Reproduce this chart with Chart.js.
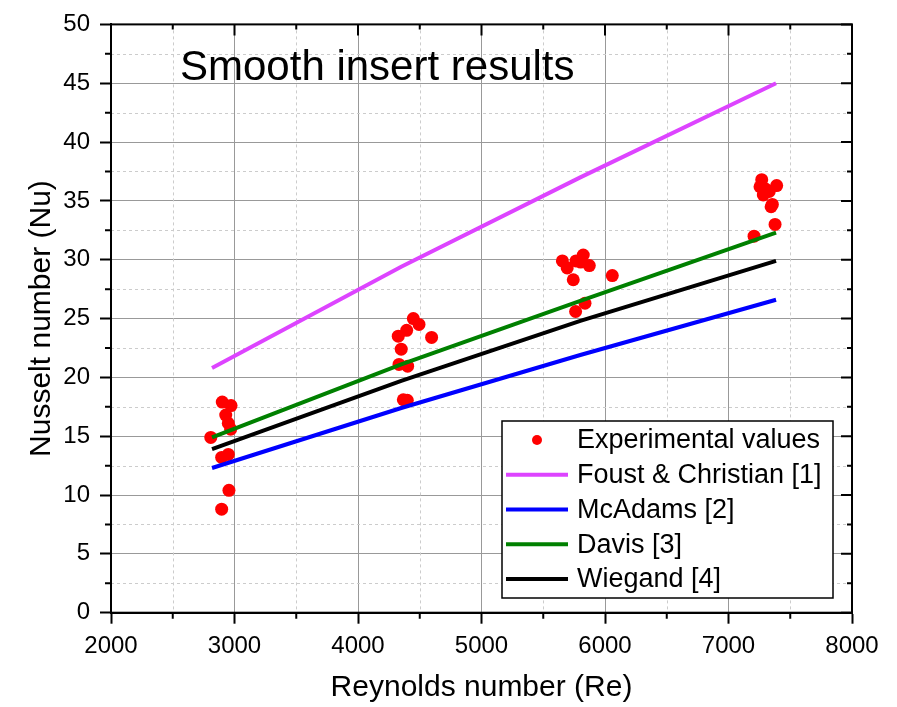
<!DOCTYPE html>
<html>
<head>
<meta charset="utf-8">
<title>Smooth insert results</title>
<script src="https://cdn.jsdelivr.net/npm/chart.js@4.4.1/dist/chart.umd.min.js"></script>
<style>
  html, body { margin: 0; padding: 0; background: #fff; }
  #wrap { width: 897px; height: 707px; }
</style>
</head>
<body>
<div id="wrap"><canvas id="nusseltChart" width="897" height="707"></canvas></div>
<script>
// experimental points (Re, Nu)
const expRe = [
  2808, 2901, 2972, 2929, 2950, 2969, 2896, 2950, 2955, 2896,
  4448, 4494, 4394, 4326, 4596, 4350, 4332, 4402, 4367, 4399,
  5655, 5694, 5765, 5824, 5803, 5873, 5743, 6059, 5838, 5762,
  7269, 7255, 7390, 7330, 7282, 7355, 7377, 7207, 7345, 7300
];
const expNu = [
  14.9, 17.9, 17.6, 16.8, 16.1, 15.6, 13.2, 13.45, 10.4, 8.8,
  25.0, 24.5, 24.0, 23.5, 23.4, 22.4, 21.1, 20.95, 18.1, 18.05,
  29.9, 29.3, 29.9, 30.4, 29.8, 29.5, 28.3, 28.65, 26.3, 25.6,
  36.8, 36.2, 36.3, 35.8, 35.5, 34.7, 33.0, 32.0, 34.5, 36.0
];

// correlations, evaluated at the group Reynolds numbers
const modelRe = [2818, 4350, 5800, 7385];
const foustNu = [20.8, 29.4, 37.0, 45.0];
const mcadamsNu = [12.3, 17.4, 21.9, 26.6];
const davisNu = [14.9, 21.1, 26.5, 32.3];
const wiegandNu = [13.9, 19.7, 24.8, 29.9];

const seriesLabels = ["Experimental values", "Foust & Christian [1]", "McAdams [2]", "Davis [3]", "Wiegand [4]"];
const chartTitle = "Smooth insert results";
const xTitle = "Reynolds number (Re)";
const yTitle = "Nusselt number (Nu)";

const toPoints = (xs, ys) => xs.map((x, i) => ({ x: x, y: ys[i] }));

Chart.defaults.font.family = "'Liberation Sans', Arial, sans-serif";
Chart.defaults.color = "#000";

function lineSet(label, ys, color) {
  return {
    label: label,
    data: toPoints(modelRe, ys),
    showLine: true,
    borderColor: color,
    backgroundColor: color,
    borderWidth: 4,
    pointRadius: 0,
    order: 1
  };
}

// minor dashed grid, drawn under the data
const minorGrid = {
  id: "minorGrid",
  beforeDatasetsDraw(chart) {
    const { ctx, chartArea: a, scales: { x, y } } = chart;
    ctx.save();
    ctx.strokeStyle = "#cccccc";
    ctx.lineWidth = 1;
    ctx.setLineDash([3, 3]);
    for (let v = 2500; v < 8000; v += 1000) {
      const px = Math.round(x.getPixelForValue(v)) + 0.5;
      ctx.beginPath(); ctx.moveTo(px, a.top); ctx.lineTo(px, a.bottom); ctx.stroke();
    }
    for (let v = 2.5; v < 50; v += 5) {
      const py = Math.round(y.getPixelForValue(v)) + 0.5;
      ctx.beginPath(); ctx.moveTo(a.left, py); ctx.lineTo(a.right, py); ctx.stroke();
    }
    ctx.restore();
  }
};

// frame, minor ticks, mirrored ticks, title text and the legend box
const decorations = {
  id: "decorations",
  afterDraw(chart) {
    const { ctx, chartArea: a, scales: { x, y } } = chart;
    ctx.save();
    ctx.strokeStyle = "#000";
    ctx.lineWidth = 2;
    ctx.strokeRect(a.left, a.top, a.right - a.left, a.bottom - a.top);

    ctx.beginPath();
    for (let v = 2000; v <= 8000; v += 500) {
      const px = x.getPixelForValue(v);
      const major = v % 1000 === 0;
      if (!major) { ctx.moveTo(px, a.bottom); ctx.lineTo(px, a.bottom + 6); }
      ctx.moveTo(px, a.top); ctx.lineTo(px, a.top + (major ? 11 : 5));
    }
    for (let v = 0; v <= 50; v += 2.5) {
      const py = y.getPixelForValue(v);
      const major = v % 5 === 0;
      if (!major) { ctx.moveTo(a.left, py); ctx.lineTo(a.left - 6, py); }
      ctx.moveTo(a.right, py); ctx.lineTo(a.right - (major ? 11 : 5), py);
    }
    ctx.stroke();

    ctx.fillStyle = "#000";
    ctx.font = "42px 'Liberation Sans', Arial, sans-serif";
    ctx.textBaseline = "alphabetic";
    ctx.textAlign = "left";
    ctx.fillText(chartTitle, 180, 80);

    // legend
    const bx = 502, by = 421, bw = 331, bh = 177;
    ctx.fillStyle = "#fff";
    ctx.fillRect(bx, by, bw, bh);
    ctx.lineWidth = 1.5;
    ctx.strokeRect(bx, by, bw, bh);
    ctx.font = "27px 'Liberation Sans', Arial, sans-serif";
    ctx.textBaseline = "middle";
    chart.data.datasets.forEach((ds, i) => {
      const cy = by + 19 + i * 34.75;
      if (ds.showLine) {
        ctx.strokeStyle = ds.borderColor;
        ctx.lineWidth = 4;
        ctx.beginPath(); ctx.moveTo(bx + 4, cy); ctx.lineTo(bx + 66, cy); ctx.stroke();
      } else {
        ctx.fillStyle = ds.backgroundColor;
        ctx.beginPath(); ctx.arc(bx + 35, cy, 5, 0, Math.PI * 2); ctx.fill();
      }
      ctx.fillStyle = "#000";
      ctx.fillText(ds.label, bx + 75, cy + 1);
    });
    ctx.restore();
  }
};

const ctx = document.getElementById("nusseltChart").getContext("2d");
const nusseltChart = new Chart(ctx, {
  type: "scatter",
  data: {
    datasets: [
      {
        label: seriesLabels[0],
        data: toPoints(expRe, expNu),
        backgroundColor: "#ff0000",
        borderColor: "#ff0000",
        pointRadius: 6.5,
        borderWidth: 0,
        order: 5
      },
      lineSet(seriesLabels[1], foustNu, "#dd44ff"),
      lineSet(seriesLabels[2], mcadamsNu, "#0000ff"),
      lineSet(seriesLabels[3], davisNu, "#008000"),
      lineSet(seriesLabels[4], wiegandNu, "#000000")
    ]
  },
  options: {
    responsive: false,
    animation: false,
    layout: { padding: { left: 0, right: 45, top: 17, bottom: 0 } },
    plugins: {
      legend: { display: false },
      tooltip: { enabled: false },
      title: { display: false }
    },
    scales: {
      x: {
        type: "linear",
        min: 2000,
        max: 8000,
        afterFit: (s) => { s.height = 94.3; },
        ticks: { stepSize: 1000, font: { size: 24 }, padding: 8, maxRotation: 0, callback: (v) => String(v) },
        grid: { color: "#999999", lineWidth: 1, tickLength: 11, tickColor: "#000", tickWidth: 2 },
        border: { display: true, color: "#000", width: 2 },
        title: { display: true, text: xTitle, font: { size: 30 }, padding: { top: 0, bottom: 1 } }
      },
      y: {
        type: "linear",
        min: 0,
        max: 50,
        afterFit: (s) => { s.width = 111; },
        ticks: { stepSize: 5, font: { size: 24 }, padding: 10, callback: (v) => String(v) },
        grid: { color: "#999999", lineWidth: 1, tickLength: 11, tickColor: "#000", tickWidth: 2 },
        border: { display: true, color: "#000", width: 2 },
        title: { display: true, text: yTitle, font: { size: 30 }, padding: { top: 24, bottom: 0 } }
      }
    }
  },
  plugins: [minorGrid, decorations]
});
</script>
</body>
</html>
